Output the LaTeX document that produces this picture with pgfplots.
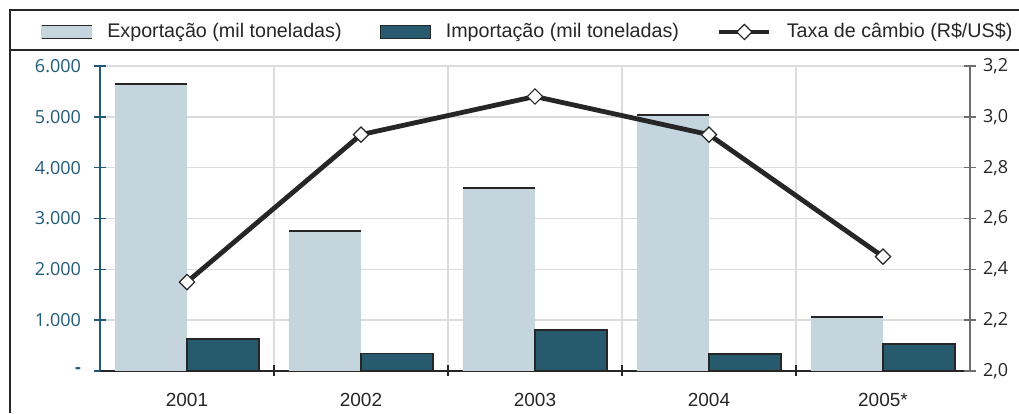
\documentclass[border=0pt]{standalone}
\usepackage{fontspec}
\setmainfont{Liberation Sans}
\newfontfamily\tickfont{Open Sans}
\usepackage{pgfplots}
\pgfplotsset{compat=1.18}
\definecolor{expfill}{HTML}{C5D5DD}
\definecolor{impfill}{HTML}{285A6E}
\definecolor{axteal}{HTML}{1F5A78}
\definecolor{gridgray}{HTML}{DCDCDC}
\definecolor{frame}{HTML}{262626}
\definecolor{raxis}{HTML}{6E6E6E}
\begin{document}
\begin{tikzpicture}
\path[use as bounding box] (0,0) rectangle (509.5pt,206.5pt);
\draw[frame, line width=1.3pt] (5pt,0pt) -- (5pt,201.5pt) -- (509.5pt,201.5pt);
\draw[frame, line width=1pt] (5pt,181.5pt) -- (509.5pt,181.5pt);
\begin{axis}[
  at={(50pt,21pt)}, anchor=south west, scale only axis,
  width=435pt, height=152.5pt,
  xmin=-0.5, xmax=4.5, ymin=0, ymax=6000,
  axis x line*=bottom, axis y line*=left,
  x axis line style={frame, line width=0.8pt, -},
  y axis line style={axteal, line width=0.8pt, -},
  xtick={0,1,2,3,4}, xticklabels={2001,2002,2003,2004,2005*},
  major x tick style={draw=none},
  minor xtick={0.5,1.5,2.5,3.5},
  minor x tick style={draw=frame, line width=0.6pt},
  minor tick length=5.5pt,
  xminorgrids=true,
  minor x grid style={gridgray, line width=0.8pt},
  xtick align=center,
  ytick={0,1000,2000,3000,4000,5000,6000},
  yticklabels={{\textbf{-}},{1.000},{2.000},{3.000},{4.000},{5.000},{6.000}},
  ytick align=center, major tick length=6pt,
  y tick style={axteal, line width=0.8pt},
  ymajorgrids=true,
  major y grid style={gridgray, line width=0.8pt},
  yticklabel style={axteal, font=\tickfont\fontsize{9}{10}\selectfont, xshift=-3pt},
  xticklabel style={frame, font=\fontsize{9.5}{11}\selectfont, yshift=-4.5pt},
]
\addplot[ybar, bar width=36pt, bar shift=-18pt, fill=expfill, draw=none]
  coordinates {(0,5650) (1,2755) (2,3600) (3,5040) (4,1065)};
\addplot[ybar, bar width=36pt, bar shift=18pt, fill=impfill, draw=frame, line width=0.6pt]
  coordinates {(0,630) (1,350) (2,805) (3,335) (4,530)};
\addplot[draw=none, mark=none, forget plot,
  error bars/.cd, x dir=both, x fixed=0.2069, error mark=none,
  error bar style={draw=frame, line width=1pt}]
  coordinates {(-0.2069,5650) (0.7931,2755) (1.7931,3600) (2.7931,5040) (3.7931,1065)};
\end{axis}
\begin{axis}[
  at={(50pt,21pt)}, anchor=south west, scale only axis,
  width=435pt, height=152.5pt,
  xmin=-0.5, xmax=4.5, ymin=2, ymax=3.2,
  axis x line=none, axis y line*=right,
  y axis line style={raxis, line width=0.8pt, -},
  ytick={2,2.2,2.4,2.6,2.8,3,3.2},
  ytick align=center, major tick length=6pt,
  y tick style={raxis, line width=0.8pt},
  yticklabel style={frame, font=\tickfont\fontsize{9}{10}\selectfont,
    /pgf/number format/.cd, fixed, fixed zerofill, precision=1, use comma, assume math mode=true},
  legend columns=3,
  legend style={at={(0.4903,1.1115)}, anchor=center, draw=none, fill=none,
    font=\fontsize{9.85}{12}\selectfont, text=frame,
    /tikz/every odd column/.append style={column sep=7.5pt},
    /tikz/every even column/.append style={column sep=19pt},
    nodes={inner sep=0pt}},
]
\addlegendimage{legend image code/.code={
  \fill[expfill] (0pt,-3.25pt) rectangle (25pt,3.25pt);
  \draw[frame, line width=0.8pt] (0pt,3.25pt) -- (25pt,3.25pt) (0pt,-3.25pt) -- (25pt,-3.25pt);}}
\addlegendentry{Exportação (mil toneladas)}
\addlegendimage{legend image code/.code={
  \draw[fill=impfill, draw=frame, line width=0.6pt] (0pt,-3.25pt) rectangle (25pt,3.25pt);}}
\addlegendentry{Importação (mil toneladas)}
\addplot[frame, line width=2.4pt, mark=square*, mark size=2.7pt,
  mark options={rotate=45, fill=white, draw=frame, line width=0.6pt},
  legend image code/.code={
    \draw[frame, line width=2.4pt] (0pt,0pt) -- (25pt,0pt);
    \draw[fill=white, draw=frame, line width=0.6pt] (12.5pt,3.8pt) -- (16.3pt,0pt) -- (12.5pt,-3.8pt) -- (8.7pt,0pt) -- cycle;}]
  coordinates {(0,2.35) (1,2.93) (2,3.08) (3,2.93) (4,2.45)};
\addlegendentry{Taxa de câmbio (R\$/US\$)}
\end{axis}
\end{tikzpicture}
\end{document}
